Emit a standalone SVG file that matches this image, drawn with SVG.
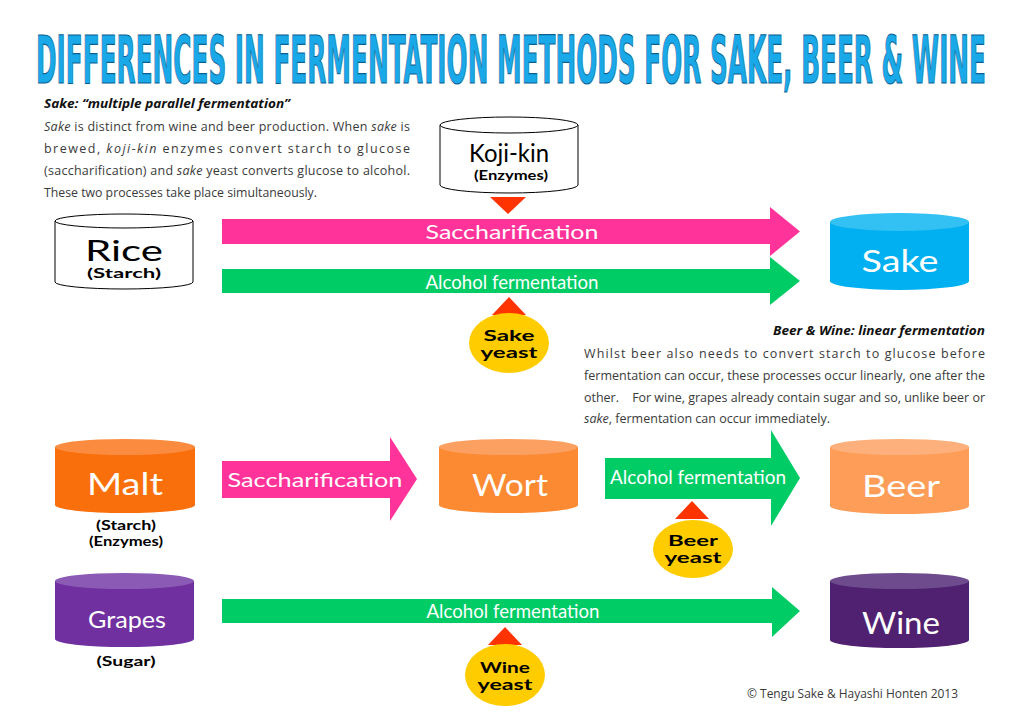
<svg xmlns="http://www.w3.org/2000/svg" width="1024" height="722" viewBox="0 0 1024 722">
<style>
.title{font-family:"DejaVu Sans Condensed","DejaVu Sans",sans-serif;font-weight:bold;font-size:25px;fill:#1aa9e8;stroke:#0b5f93;stroke-width:0.8}
.body{font-family:"Open Sans","Liberation Sans",sans-serif;font-size:12.5px;fill:#3a3a3a}
.head{font-family:"Open Sans","Liberation Sans",sans-serif;font-size:12.5px;font-weight:bold;font-style:italic;fill:#111}
.it{font-style:italic}
.lbl{font-family:"Lato","Liberation Sans",sans-serif;text-anchor:middle}
.big{font-size:30px}
.w{fill:#fff}
.k{fill:#000}
.sub{font-size:12.5px;font-weight:bold;fill:#000}
.arrtxt{font-family:"Lato","Liberation Sans",sans-serif;font-size:20px;fill:#fff;text-anchor:middle}
.yst{font-family:"Lato","Liberation Sans",sans-serif;font-size:16px;font-weight:bold;fill:#000;text-anchor:middle}
.pink{fill:#ff3399}
.green{fill:#00cc66}
.tri{fill:#ff3300}
.yel{fill:#ffcc00}
.outline{fill:#fff;stroke:#000;stroke-width:1}
</style>
<rect width="1024" height="722" fill="#fff"/>
<text class="title" x="0" y="0" transform="translate(36,83) scale(1,2.6)" vector-effect="non-scaling-stroke" textLength="950" lengthAdjust="spacingAndGlyphs">DIFFERENCES IN FERMENTATION METHODS FOR SAKE, BEER &amp; WINE</text>

<g id="sake-text">
<text class="head" x="44" y="108" textLength="246" lengthAdjust="spacingAndGlyphs">Sake: “multiple parallel fermentation”</text>
<text class="body" x="44" y="131" textLength="366" lengthAdjust="spacing"><tspan class="it">Sake</tspan> is distinct from wine and beer production. When <tspan class="it">sake</tspan> is</text>
<text class="body" x="44" y="153" textLength="366" lengthAdjust="spacing">brewed, <tspan class="it">koji-kin</tspan> enzymes convert starch to glucose</text>
<text class="body" x="44" y="175" textLength="366" lengthAdjust="spacing">(saccharification) and <tspan class="it">sake</tspan> yeast converts glucose to alcohol.</text>
<text class="body" x="44" y="197" textLength="273" lengthAdjust="spacingAndGlyphs">These two processes take place simultaneously.</text>
</g>

<g id="beer-wine-text">
<text class="head" x="985" y="335" text-anchor="end" textLength="212" lengthAdjust="spacingAndGlyphs">Beer &amp; Wine: linear fermentation</text>
<text class="body" x="584" y="358" textLength="401" lengthAdjust="spacing">Whilst beer also needs to convert starch to glucose before</text>
<text class="body" x="584" y="380" textLength="401" lengthAdjust="spacing">fermentation can occur, these processes occur linearly, one after the</text>
<text class="body" x="584" y="402" textLength="401" lengthAdjust="spacing">other. <tspan dx="10">For wine, grapes already contain sugar and so, unlike beer or</tspan></text>
<text class="body" x="584" y="423" textLength="246" lengthAdjust="spacingAndGlyphs"><tspan class="it">sake</tspan>, fermentation can occur immediately.</text>
</g>

<g id="connectors">
<path class="pink" d="M222 219 H770 V207 L800 231.5 L770 256 V244 H222 Z"/>
<text class="arrtxt" x="512" y="239" textLength="173" lengthAdjust="spacingAndGlyphs">Saccharification</text>
<path class="green" d="M222 269 H770 V257 L800 281 L770 305 V293 H222 Z"/>
<text class="arrtxt" x="512" y="289" textLength="173" lengthAdjust="spacingAndGlyphs">Alcohol fermentation</text>
<path class="pink" d="M222 461 H390 V437 L417 479 L390 521 V498 H222 Z"/>
<text class="arrtxt" x="315" y="487" textLength="175" lengthAdjust="spacingAndGlyphs">Saccharification</text>
<path class="green" d="M605 458 H771 V430 L800 478 L771 526 V499 H605 Z"/>
<text class="arrtxt" x="698" y="484" textLength="176" lengthAdjust="spacingAndGlyphs">Alcohol fermentation</text>
<path class="green" d="M222 599 H772 V587 L800 611 L772 637 V623 H222 Z"/>
<text class="arrtxt" x="513" y="618" textLength="173" lengthAdjust="spacingAndGlyphs">Alcohol fermentation</text>
<path class="tri" d="M490 197 H526 L508 214 Z"/>
<path class="tri" d="M492 315 H526 L509 297 Z"/>
<path class="tri" d="M675 519 H709 L692 501 Z"/>
<path class="tri" d="M488 645 H522 L505 627 Z"/>
</g>

<g id="rice">
<path class="outline" d="M55 221 V282 A69 7 0 0 0 193 282 V221 Z"/>
<ellipse class="outline" cx="124" cy="221" rx="69" ry="7"/>
<text class="lbl k" x="124" y="261" font-size="28" textLength="78" lengthAdjust="spacingAndGlyphs">Rice</text>
<text class="lbl sub" x="124" y="278" textLength="74" lengthAdjust="spacingAndGlyphs">(Starch)</text>
</g>

<g id="koji-kin">
<path class="outline" d="M440 125 V185 A69 8 0 0 0 578 185 V125 Z"/>
<ellipse class="outline" cx="509" cy="125" rx="69" ry="8"/>
<text class="lbl k" x="509" y="162" font-size="25" textLength="80" lengthAdjust="spacingAndGlyphs">Koji-kin</text>
<text class="lbl sub" x="511" y="180" textLength="74" lengthAdjust="spacingAndGlyphs">(Enzymes)</text>
</g>

<g id="sake">
<path fill="#00b0f0" d="M830 222 V281 A69.5 9 0 0 0 969 281 V222 Z"/>
<ellipse fill="#33c0f3" cx="899.5" cy="222" rx="69.5" ry="9"/>
<text class="lbl big w" x="900" y="272" textLength="77" lengthAdjust="spacingAndGlyphs">Sake</text>
</g>

<g id="sake-yeast">
<ellipse class="yel" cx="509" cy="343" rx="40" ry="30"/>
<text class="yst" x="509" y="341" textLength="51" lengthAdjust="spacingAndGlyphs">Sake</text>
<text class="yst" x="509" y="358" textLength="57" lengthAdjust="spacingAndGlyphs">yeast</text>
</g>

<g id="malt">
<path fill="#f96f0b" d="M55 447 V505 A70 8 0 0 0 195 505 V447 Z"/>
<ellipse fill="#fb8b3e" cx="125" cy="447" rx="70" ry="8"/>
<text class="lbl big w" x="125" y="495" textLength="76" lengthAdjust="spacingAndGlyphs">Malt</text>
<text class="lbl sub" x="126" y="530" textLength="60" lengthAdjust="spacingAndGlyphs">(Starch)</text>
<text class="lbl sub" x="126" y="546" textLength="74" lengthAdjust="spacingAndGlyphs">(Enzymes)</text>
</g>

<g id="wort">
<path fill="#fb8a33" d="M439 447 V505 A69.5 8 0 0 0 578 505 V447 Z"/>
<ellipse fill="#fca062" cx="508.5" cy="447" rx="69.5" ry="8"/>
<text class="lbl big w" x="510" y="496" textLength="76" lengthAdjust="spacingAndGlyphs">Wort</text>
</g>

<g id="beer">
<path fill="#fd9d58" d="M830 447 V506 A69.5 8 0 0 0 969 506 V447 Z"/>
<ellipse fill="#feb07c" cx="899.5" cy="447" rx="69.5" ry="8"/>
<text class="lbl big w" x="901" y="497" textLength="78" lengthAdjust="spacingAndGlyphs">Beer</text>
</g>

<g id="beer-yeast">
<ellipse class="yel" cx="693" cy="549" rx="40" ry="29"/>
<text class="yst" x="693" y="546" textLength="50" lengthAdjust="spacingAndGlyphs">Beer</text>
<text class="yst" x="693" y="563" textLength="57" lengthAdjust="spacingAndGlyphs">yeast</text>
</g>

<g id="grapes">
<path fill="#7030a0" d="M55 581 V639 A69.5 8 0 0 0 194 639 V581 Z"/>
<ellipse fill="#8b5ab5" cx="124.5" cy="581" rx="69.5" ry="8"/>
<text class="lbl w" x="127" y="628" font-size="24" textLength="78" lengthAdjust="spacingAndGlyphs">Grapes</text>
<text class="lbl sub" x="126" y="666" textLength="59" lengthAdjust="spacingAndGlyphs">(Sugar)</text>
</g>

<g id="wine">
<path fill="#502171" d="M830 581 V640 A69.5 8 0 0 0 969 640 V581 Z"/>
<ellipse fill="#6d4b8d" cx="899.5" cy="581" rx="69.5" ry="8"/>
<text class="lbl big w" x="901" y="634" textLength="78" lengthAdjust="spacingAndGlyphs">Wine</text>
</g>

<g id="wine-yeast">
<ellipse class="yel" cx="505" cy="675" rx="40" ry="31"/>
<text class="yst" x="505" y="673" textLength="50" lengthAdjust="spacingAndGlyphs">Wine</text>
<text class="yst" x="505" y="690" textLength="55" lengthAdjust="spacingAndGlyphs">yeast</text>
</g>

<text class="body" x="747" y="698" font-size="12" textLength="211" lengthAdjust="spacingAndGlyphs">© Tengu Sake &amp; Hayashi Honten 2013</text>
</svg>
